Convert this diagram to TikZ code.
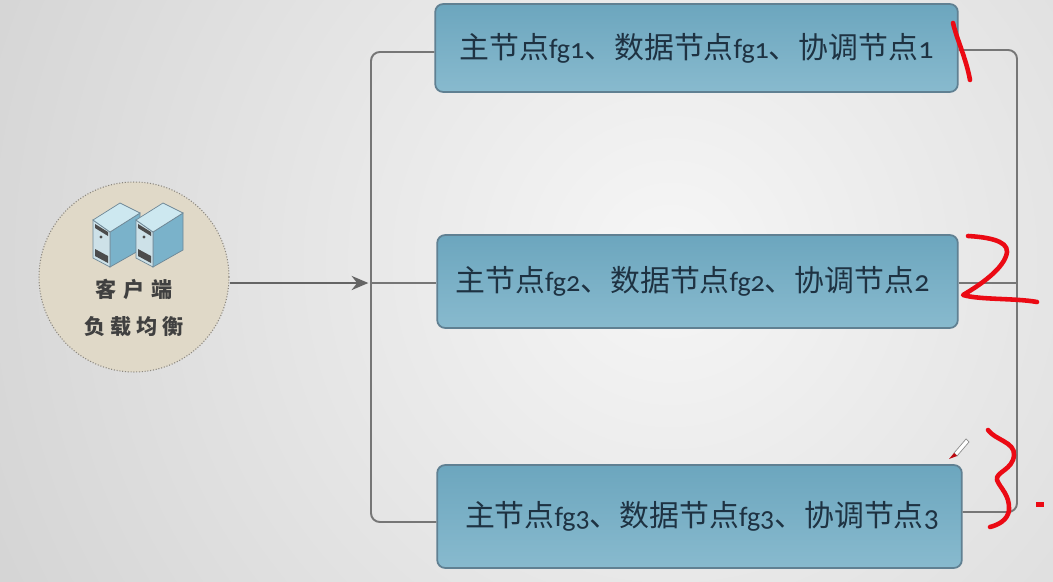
\documentclass[tikz,border=0pt]{standalone}
\usepackage{fontspec}
\setmainfont{Noto Sans CJK SC}
\newfontfamily\latinfont[Numbers=OldStyle]{Carlito}
\usetikzlibrary{arrows.meta}
\definecolor{back_inner}{RGB}{246,246,246}
\definecolor{back_outer}{RGB}{210,210,210}
\definecolor{box_top}{RGB}{108,166,190}
\definecolor{box_bottom}{RGB}{136,186,206}
\definecolor{box_edge}{RGB}{96,128,146}
\definecolor{box_text}{RGB}{30,50,66}
\definecolor{line_gray}{RGB}{118,118,118}
\definecolor{arrow_gray}{RGB}{100,100,100}
\definecolor{disc_fill}{RGB}{224,217,200}
\definecolor{disc_edge}{RGB}{140,136,128}
\definecolor{ink_red}{RGB}{235,10,20}
\definecolor{srv_top}{RGB}{205,232,240}
\definecolor{srv_front}{RGB}{205,225,232}
\definecolor{srv_side}{RGB}{122,178,202}
\definecolor{srv_edge}{RGB}{110,135,150}
\newcommand\fg[1]{{\latinfont\fontsize{16}{17}\selectfont fg#1}}
\newcommand\dg[1]{{\latinfont\fontsize{17}{18}\selectfont #1}}
\newcommand\boxtext[1]{主节点\fg{#1}、数据节点\fg{#1}、协调节点\dg{#1}}

\begin{document}
\begin{tikzpicture}[x=0.02cm,y=-0.02cm,semithick]
    \tikzstyle{fgbox}=[draw=box_edge, line width=1pt, rounded corners=4.5pt, top color=box_top, bottom color=box_bottom, text=box_text, font=\fontsize{17}{19}\selectfont, inner sep=0pt]
    \tikzstyle{bus}=[draw=line_gray, line width=1.1pt, rounded corners=5pt]
    \tikzstyle{disc}=[draw=disc_edge, densely dotted, fill=disc_fill, circle, minimum size=3.8cm, inner sep=0pt]
    \tikzstyle{disctext}=[text=black!75, font=\fontsize{12}{16}\selectfont\bfseries, inner sep=0pt]
    \tikzstyle{ink}=[draw=ink_red, line width=2.6pt, line cap=round, line join=round]
    \tikzset{srv/.pic={
      \fill[srv_side,draw=srv_edge,thin] (-10,29) -- (20,10) -- (20,47) -- (-10,64) -- cycle;
      \fill[srv_front,draw=srv_edge,thin] (-27,17) -- (-10,29) -- (-10,64) -- (-27,55) -- cycle;
      \fill[srv_top,draw=srv_edge,thin] (-27,17) -- (0,0) -- (20,10) -- (-10,29) -- cycle;
      \fill[black!70] (-25,21) -- (-12,29) -- (-12,33) -- (-25,25) -- cycle;
      \fill[black!70] (-25,46) -- (-12,53) -- (-12,60) -- (-25,53) -- cycle;
      \fill[black!70] (-19,34) circle (1.6);
    }}

    % background
    \clip (0,0) rectangle (1053,581);
    \path[use as bounding box] (0,0) rectangle (1053,581);
    \shade[inner color=back_inner, outer color=back_outer] (670,260) circle (800);

    % boxes
    \node[fgbox, minimum width=1046*0.01cm, minimum height=176*0.01cm] (box1) at (696.5,48)  {\boxtext{1}};
    \node[fgbox, minimum width=1042*0.01cm, minimum height=186*0.01cm] (box2) at (697.5,281.5) {\boxtext{2}\hspace*{0.2cm}};
    \node[fgbox, minimum width=1050*0.01cm, minimum height=206*0.01cm] (box3) at (699.5,516.5) {\hspace*{0.1cm}\boxtext{3}};

    % client
    \node[disc] (client) at (134,277) {};
    \pic at (120,203) {srv};
    \pic at (163,203) {srv};
    \node[disctext] (kehu) at (134,289) {客\hspace{0.14cm}户\hspace{0.14cm}端};
    \node[disctext] (fuzai) at (134,327) {负\hspace{0.1cm}载\hspace{0.1cm}均\hspace{0.1cm}衡};

    % connectors
    \coordinate (splitl) at (371,283);
    \coordinate (west1) at (371,52);
    \coordinate (west3) at (371,522);
    \coordinate (east1) at (1017,50);
    \coordinate (east2) at (1017,283);
    \coordinate (east3) at (1017,512);
    \draw[bus] (box1.west |- west1) -- (west1) -- (west3) -- (box3.west |- west3);
    \draw[bus] (box1.east |- east1) -- (east1) -- (east3) -- (box3.east |- east3);
    \draw[bus] (splitl) -- (box2.west |- splitl);
    \draw[bus] (box2.east |- east2) -- (east2);
    \draw[draw=arrow_gray, line width=1.5pt, -{Stealth[length=9.5pt,width=8pt]}, shorten >=1.5pt] (client.east |- splitl) -- (splitl);

    % handwriting
    \draw[ink] (953,23) .. controls (957,40) and (966,58) .. (970,80);
    \draw[ink] (968,236) .. controls (985,237) and (1008,240) .. (1007,252) .. controls (1005,268) and (980,285) .. (963,295) .. controls (980,300) and (1015,298) .. (1037,302);
    \draw[ink] (988,430) .. controls (995,440) and (1015,442) .. (1014,455) .. controls (1013,470) and (995,472) .. (997,480) .. controls (1000,488) and (1010,495) .. (1009,510) .. controls (1008,520) and (998,525) .. (990,527);
    \fill[ink_red] (1036,501.5) rectangle (1044,506.5);

    % pen
    \fill[white, draw=black!45, thin] (954,453) -- (966,439) -- (969,442) -- (957,456) -- cycle;
    \fill[ink_red!80!black] (949,459) -- (954,453) -- (957,456) -- cycle;
\end{tikzpicture}
\end{document}
